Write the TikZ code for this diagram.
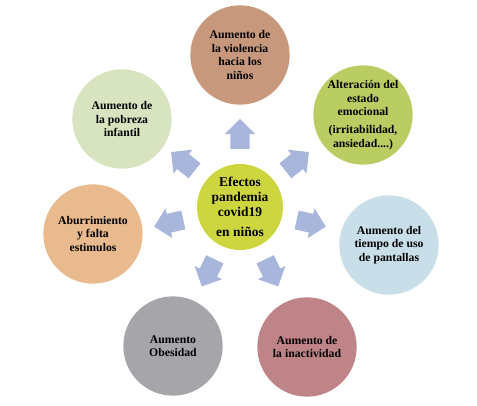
\documentclass[tikz,border=0pt]{standalone}
\usepackage{fontspec}
\setmainfont{Liberation Serif}
\usepackage{tikz}
\usetikzlibrary{positioning, shapes.arrows}
\usepackage{xcolor}
\definecolor{centergreen}{RGB}{205,214,62}
\definecolor{salmon}{RGB}{200,152,124}
\definecolor{limegreen}{RGB}{186,205,98}
\definecolor{paleblue}{RGB}{200,222,232}
\definecolor{dustyrose}{RGB}{190,132,136}
\definecolor{midgray}{RGB}{166,166,170}
\definecolor{peach}{RGB}{232,186,142}
\definecolor{palegreen}{RGB}{216,228,192}
\definecolor{arrowblue}{RGB}{168,182,220}

\begin{document}
\begin{tikzpicture}[
  bubble/.style={circle, minimum size=2.98cm, inner sep=0pt, align=center,
    font=\fontsize{10}{11.5}\selectfont\bfseries},
  blockarr/.style={single arrow, fill=arrowblue, draw=none,
    inner xsep=0pt, inner ysep=0.28cm,
    minimum height=0.9cm, minimum width=0.9cm,
    single arrow head extend=0.17cm, single arrow head indent=0pt}
]
  \useasboundingbox (-7.2,-5.97) rectangle (7.11,6.21);
  % centre
  \node[bubble, fill=centergreen, minimum size=2.58cm,
    font=\fontsize{11.5}{13}\selectfont\bfseries] (core) at (0,0)
    {Efectos\\pandemia\\covid19\\[4pt]en niños};
  % effects
  \node[bubble, fill=salmon] (violencia) at (0,4.56)
    {Aumento de\\la violencia\\hacia los\\niños};
  \node[bubble, fill=limegreen] (emocional) at (3.69,2.76)
    {Alteración del\\estado\\emocional\\[4pt](irritabilidad,\\ansiedad....)};
  \node[bubble, fill=paleblue] (pantallas) at (4.47,-1.14)
    {Aumento del\\tiempo de uso\\de pantallas};
  \node[bubble, fill=dustyrose] (inactividad) at (2.01,-4.2)
    {Aumento de\\la inactividad};
  \node[bubble, fill=midgray] (obesidad) at (-2.01,-4.17)
    {Aumento\\Obesidad};
  \node[bubble, fill=peach] (aburrimiento) at (-4.41,-0.81)
    {Aburrimiento\\y falta\\estimulos};
  \node[bubble, fill=palegreen] (pobreza) at (-3.54,2.64)
    {Aumento de\\la pobreza\\infantil};
  % arrows out of the centre
  \node[blockarr, rotate=90] (arrA) at (90:2.05) {};
  \node[blockarr, rotate=38.57] (arrB) at (38.57:2.05) {};
  \node[blockarr, rotate=-12.86] (arrC) at (-12.86:2.05) {};
  \node[blockarr, rotate=-64.29] (arrD) at (-64.29:2.05) {};
  \node[blockarr, rotate=-115.71] (arrE) at (-115.71:2.05) {};
  \node[blockarr, rotate=192.86] (arrF) at (192.86:2.05) {};
  \node[blockarr, rotate=141.43] (arrG) at (141.43:2.05) {};
\end{tikzpicture}
\end{document}
